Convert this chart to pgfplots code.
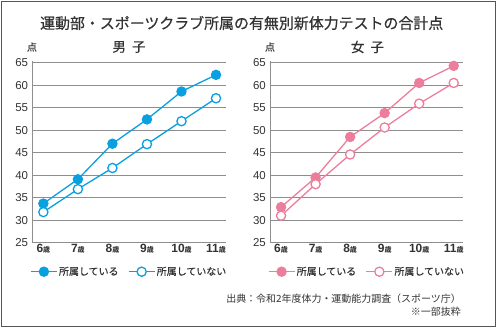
\documentclass[border=0pt]{standalone}
\usepackage{fontspec}
\setmainfont{Noto Sans CJK JP}
\newfontfamily\cjkm{Noto Sans CJK JP}[FakeBold=0.5]
\newfontfamily\lat{Liberation Sans}
\usepackage{pgfplots}
\pgfplotsset{compat=1.18}
\definecolor{cblue}{HTML}{0AA0E0}
\definecolor{cpink}{HTML}{EC7E9C}
\definecolor{cgrid}{HTML}{8E8E8E}
\definecolor{cframe}{HTML}{555555}
\definecolor{ctext}{HTML}{333333}
\newcommand{\xl}[1]{{\lat\bfseries #1}{\fontsize{7}{7}\selectfont\bfseries 歳}}
\pgfplotsset{
 base/.style={
  scale only axis, width=193.4bp, height=181.8bp,
  xmin=5.68, xmax=11.28, ymin=25, ymax=65.4,
  xtick={6,...,11}, ytick={25,30,...,65},
  xticklabels={\xl{6},\xl{7},\xl{8},\xl{9},\xl{10},\xl{11}},
  axis x line*=bottom, axis y line*=left,
  axis line style={cgrid, line width=0.9bp, -},
  ymajorgrids, grid style={cgrid, line width=0.9bp},
  major tick length=0pt,
  /pgf/number format/assume math mode=true,
  yticklabel style={font=\lat\fontsize{11.5}{12}\selectfont, text=ctext, inner sep=2bp, xshift=-2bp},
  xticklabel style={font=\fontsize{12}{12}\selectfont, text=ctext, inner sep=1.5bp},
  legend style={draw=none, fill=none, at={(0.5,-0.1595)}, anchor=center, legend columns=2,
    font=\cjkm\fontsize{10}{11}\selectfont, text=ctext,
    /tikz/every even column/.append style={column sep=8bp}, inner sep=0pt,
    nodes={inner sep=1.5bp}},
  legend cell align=left,
  legend image code/.code={\draw[mark repeat=2,mark phase=2] plot coordinates {(0bp,0bp) (13bp,0bp) (26bp,0bp)};},
 },
 filled/.style={line width=1.3bp, mark=*, mark size=4.7bp, mark options={solid, line width=1bp}},
 open/.style={line width=1.3bp, mark=*, mark size=4.6bp, mark options={solid, fill=white, line width=1.3bp}},
}
\begin{document}
\begin{tikzpicture}
\useasboundingbox (0,0) rectangle (497bp,328bp);
\draw[cframe, line width=1.5bp] (1.5bp,1.5bp) rectangle (495.5bp,326.5bp);
\node[font=\cjkm\fontsize{15}{15}\selectfont, text=ctext] at (241.7bp,305bp) {運動部・スポーツクラブ所属の有無別新体力テストの合計点};
\node[font=\cjkm\fontsize{10}{10}\selectfont, text=ctext] at (32bp,281bp) {点};
\node[font=\cjkm\fontsize{10}{10}\selectfont, text=ctext] at (270bp,281bp) {点};
\node[font=\cjkm\fontsize{13.5}{13.5}\selectfont, text=ctext] at (129bp,281bp) {男\hspace{6bp}子};
\node[font=\cjkm\fontsize{13.5}{13.5}\selectfont, text=ctext] at (367.5bp,281bp) {女\hspace{6bp}子};
\node[font=\fontsize{10}{10}\selectfont, text=ctext, anchor=east] at (464.3bp,29.7bp) {出典：令和2年度体力・運動能力調査（スポーツ庁）};
\node[font=\fontsize{10}{10}\selectfont, text=ctext, anchor=east] at (464.3bp,16.3bp) {※一部抜粋};

\begin{axis}[base, at={(32.3bp,85.3bp)}, anchor=south west]
\addplot[cblue, filled] coordinates {(6,33.7)(7,39.1)(8,47.0)(9,52.4)(10,58.6)(11,62.3)};
\addlegendentry{所属している}
\addplot[cblue, open] coordinates {(6,31.8)(7,36.9)(8,41.6)(9,46.9)(10,52.0)(11,57.1)};
\addlegendentry{所属していない}
\end{axis}

\begin{axis}[base, at={(270bp,85.3bp)}, anchor=south west]
\addplot[cpink, filled] coordinates {(6,32.9)(7,39.5)(8,48.5)(9,53.8)(10,60.5)(11,64.3)};
\addlegendentry{所属している}
\addplot[cpink, open] coordinates {(6,31.0)(7,38.0)(8,44.6)(9,50.6)(10,55.9)(11,60.5)};
\addlegendentry{所属していない}
\end{axis}
\end{tikzpicture}
\end{document}
